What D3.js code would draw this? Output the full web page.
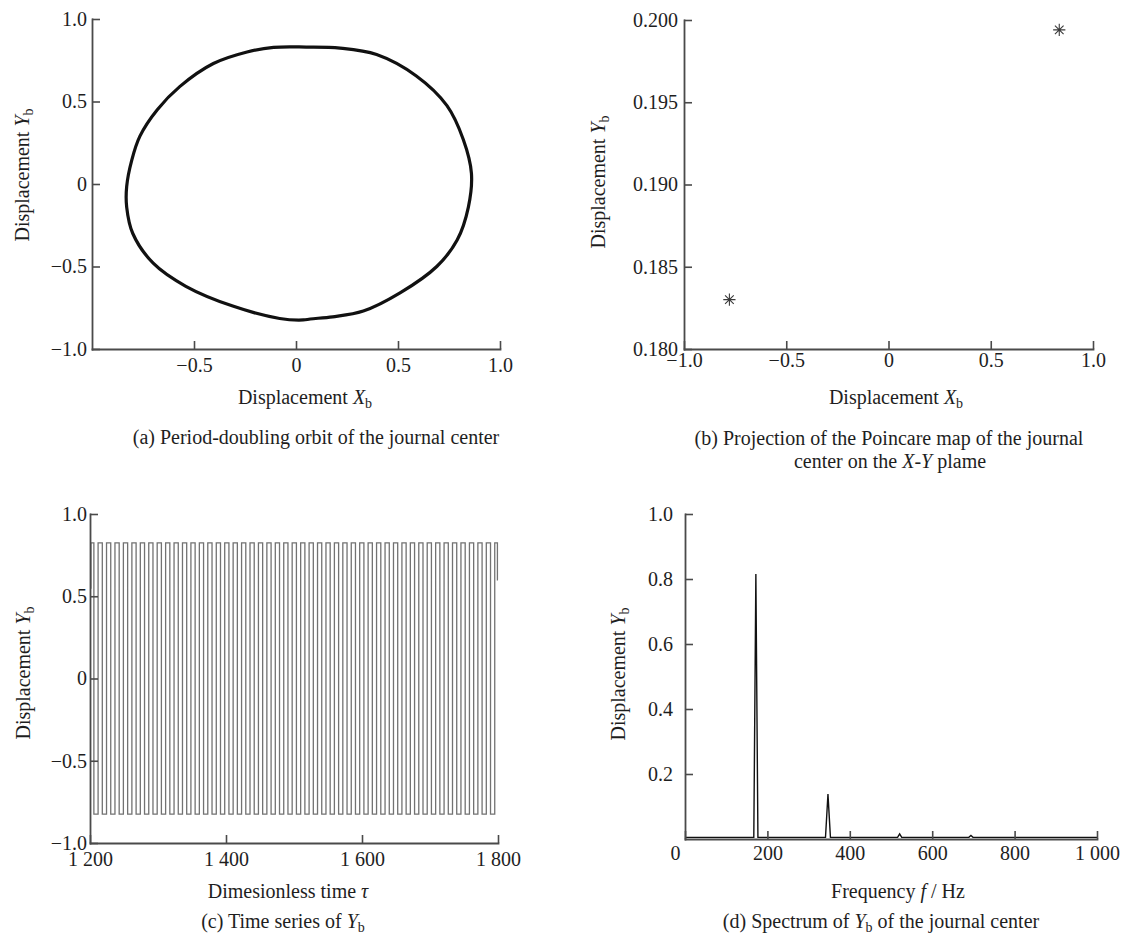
<!DOCTYPE html>
<html>
<head>
<meta charset="utf-8">
<script src="https://cdn.jsdelivr.net/npm/d3@7"></script>
<style>
  html, body { margin: 0; padding: 0; background: #fff; }
  svg { display: block; }
  text { font-family: "Liberation Serif", "Times New Roman", serif; fill: #1e1e1e; }
</style>
</head>
<body>
<svg id="fig" width="1126" height="936"></svg>
<script>
// ---------- (a) journal-centre orbit, traced clockwise from the top ----------
const orbitX = [-0.11, 0.05, 0.216, 0.395, 0.59, 0.74, 0.82, 0.86, 0.845, 0.79, 0.69, 0.51, 0.33, 0.18, 0.07, 0.036, -0.08, -0.31, -0.54, -0.70, -0.80, -0.83, -0.83, -0.805, -0.765, -0.68, -0.57, -0.405, -0.24];
const orbitY = [0.828, 0.83, 0.824, 0.785, 0.655, 0.475, 0.27, 0.065, -0.14, -0.34, -0.50, -0.66, -0.77, -0.805, -0.818, -0.824, -0.815, -0.74, -0.62, -0.48, -0.30, -0.14, -0.015, 0.145, 0.29, 0.45, 0.59, 0.73, 0.80];

// ---------- (b) Poincare section points ----------
const poincareX = [-0.778, 0.835];
const poincareY = [0.1830, 0.1994];

// ---------- (c) Y_b time series: turning points of the oscillation ----------
const seriesTau = [1200.0,
  1202.6, 1208.8, 1215.0, 1221.2, 1227.4, 1233.6, 1239.8, 1246.0, 1252.2, 1258.5,
  1264.7, 1270.9, 1277.1, 1283.3, 1289.5, 1295.7, 1301.9, 1308.1, 1314.3, 1320.5,
  1326.7, 1332.9, 1339.1, 1345.3, 1351.5, 1357.7, 1363.9, 1370.1, 1376.3, 1382.6,
  1388.8, 1395.0, 1401.2, 1407.4, 1413.6, 1419.8, 1426.0, 1432.2, 1438.4, 1444.6,
  1450.8, 1457.0, 1463.2, 1469.4, 1475.6, 1481.8, 1488.0, 1494.2, 1500.4, 1506.7,
  1512.9, 1519.1, 1525.3, 1531.5, 1537.7, 1543.9, 1550.1, 1556.3, 1562.5, 1568.7,
  1574.9, 1581.1, 1587.3, 1593.5, 1599.7, 1605.9, 1612.1, 1618.3, 1624.5, 1630.8,
  1637.0, 1643.2, 1649.4, 1655.6, 1661.8, 1668.0, 1674.2, 1680.4, 1686.6, 1692.8,
  1699.0, 1705.2, 1711.4, 1717.6, 1723.8, 1730.0, 1736.2, 1742.4, 1748.6, 1754.9,
  1761.1, 1767.3, 1773.5, 1779.7, 1785.9, 1792.1, 1798.3,
  1800.0];
const seriesYb = [0.55,
  0.825, -0.825, 0.825, -0.825, 0.825, -0.825, 0.825, -0.825, 0.825, -0.825,
  0.825, -0.825, 0.825, -0.825, 0.825, -0.825, 0.825, -0.825, 0.825, -0.825,
  0.825, -0.825, 0.825, -0.825, 0.825, -0.825, 0.825, -0.825, 0.825, -0.825,
  0.825, -0.825, 0.825, -0.825, 0.825, -0.825, 0.825, -0.825, 0.825, -0.825,
  0.825, -0.825, 0.825, -0.825, 0.825, -0.825, 0.825, -0.825, 0.825, -0.825,
  0.825, -0.825, 0.825, -0.825, 0.825, -0.825, 0.825, -0.825, 0.825, -0.825,
  0.825, -0.825, 0.825, -0.825, 0.825, -0.825, 0.825, -0.825, 0.825, -0.825,
  0.825, -0.825, 0.825, -0.825, 0.825, -0.825, 0.825, -0.825, 0.825, -0.825,
  0.825, -0.825, 0.825, -0.825, 0.825, -0.825, 0.825, -0.825, 0.825, -0.825,
  0.825, -0.825, 0.825, -0.825, 0.825, -0.825, 0.825,
  0.60];

// ---------- (d) amplitude spectrum of Y_b ----------
const specFreq = [0, 167, 172, 177, 341, 347, 353, 516, 521, 526, 689, 694, 699, 1000];
const specAmp  = [0.005, 0.005, 0.815, 0.005, 0.005, 0.138, 0.005, 0.005, 0.016, 0.005, 0.005, 0.011, 0.005, 0.005];

// ---------- tick values ----------
const ticksA_x = [-0.5, 0, 0.5, 1.0];
const ticksA_y = [-1.0, -0.5, 0, 0.5, 1.0];
const ticksB_x = [-1.0, -0.5, 0, 0.5, 1.0];
const ticksB_y = [0.180, 0.185, 0.190, 0.195, 0.200];
const ticksC_x = [1200, 1400, 1600, 1800];
const ticksC_y = [-1.0, -0.5, 0, 0.5, 1.0];
const ticksD_x = [0, 200, 400, 600, 800, 1000];
const ticksD_y = [0.2, 0.4, 0.6, 0.8, 1.0];

const svg = d3.select("#fig");
svg.append("rect").attr("width", 1126).attr("height", 936).attr("fill", "#fff");

const AXIS = "#4a4a4a";
const FS = 20;

const f1 = v => v === 0 ? "0" : d3.format(".1f")(v);
const f3 = d3.format(".3f");
const fThou = v => d3.format(",")(v).replace(",", " ");

function drawAxes(g, x, y, c) {
  const xa = d3.axisBottom(x).tickValues(c.xTicks).tickFormat(c.xFmt)
    .tickSizeInner(-8).tickSizeOuter(0).tickPadding(c.xPad);
  const ya = d3.axisLeft(y).tickValues(c.yTicks).tickFormat(c.yFmt)
    .tickSizeInner(-8).tickSizeOuter(0).tickPadding(c.yPad);
  const gx = g.append("g").attr("transform", `translate(0,${y.range()[0]})`).call(xa);
  const gy = g.append("g").attr("transform", `translate(${x.range()[0]},0)`).call(ya);
  [gx, gy].forEach(s => {
    s.attr("font-family", null).attr("font-size", FS);
    s.select(".domain").attr("stroke", AXIS).attr("stroke-width", 1.8).attr("stroke-linecap", "square");
    s.selectAll(".tick line").attr("stroke", AXIS).attr("stroke-width", 1.6);
    s.selectAll(".tick text").attr("fill", "#1e1e1e");
  });
  return { gx, gy };
}

// "Displacement X_b" style label
function dispLabel(t, letter) {
  t.append("tspan").text("Displacement ");
  t.append("tspan").attr("font-style", "italic").text(letter);
  t.append("tspan").attr("font-size", 14).attr("dy", 4).text("b");
}

function xLabel(cx, cy, build) {
  const t = svg.append("text").attr("x", cx).attr("y", cy)
    .attr("text-anchor", "middle").attr("dy", "0.35em").attr("font-size", FS);
  build(t);
  return t;
}

function yLabel(cx, cy, letter) {
  const t = svg.append("text").attr("transform", `translate(${cx},${cy}) rotate(-90)`)
    .attr("text-anchor", "middle").attr("dy", "0.35em").attr("font-size", FS);
  dispLabel(t, letter);
}

// ===================== (a) orbit =====================
{
  const x = d3.scaleLinear().domain([-1, 1]).range([92, 500]);
  const y = d3.scaleLinear().domain([-1, 1]).range([349, 19]);
  const g = svg.append("g");
  const pts = orbitX.map((v, i) => [v, orbitY[i]]);
  g.append("path")
    .attr("d", d3.line().x(d => x(d[0])).y(d => y(d[1])).curve(d3.curveCatmullRomClosed.alpha(0.5))(pts))
    .attr("fill", "none").attr("stroke", "#111").attr("stroke-width", 3.2);
  drawAxes(g, x, y, { xTicks: ticksA_x, yTicks: ticksA_y, xFmt: f1, yFmt: f1, xPad: 9, yPad: 5 });
  xLabel(305, 397, t => dispLabel(t, "X"));
  yLabel(22, 175, "Y");
  svg.append("text").attr("x", 316).attr("y", 437).attr("dy", "0.35em")
    .attr("text-anchor", "middle").attr("font-size", FS)
    .text("(a) Period-doubling orbit of the journal center");
}

// ===================== (b) Poincare map =====================
{
  const x = d3.scaleLinear().domain([-1, 1]).range([684, 1093]);
  const y = d3.scaleLinear().domain([0.18, 0.2]).range([349, 20]);
  const g = svg.append("g");
  drawAxes(g, x, y, { xTicks: ticksB_x, yTicks: ticksB_y, xFmt: f1, yFmt: f3, xPad: 4, yPad: 6 });
  const star = {
    draw(ctx, size) {
      const r = Math.sqrt(size) / 2, d = r * Math.SQRT1_2;
      ctx.moveTo(0, -r); ctx.lineTo(0, r);
      ctx.moveTo(-r, 0); ctx.lineTo(r, 0);
      ctx.moveTo(-d, -d); ctx.lineTo(d, d);
      ctx.moveTo(-d, d); ctx.lineTo(d, -d);
    }
  };
  g.selectAll("path.pt").data(poincareX.map((v, i) => [v, poincareY[i]])).join("path")
    .attr("class", "pt")
    .attr("transform", d => `translate(${x(d[0])},${y(d[1])})`)
    .attr("d", d3.symbol().type(star).size(150)())
    .attr("fill", "none").attr("stroke", "#3a3a3a").attr("stroke-width", 1.1);
  xLabel(896, 397, t => dispLabel(t, "X"));
  yLabel(598, 182, "Y");
  svg.append("text").attr("x", 889).attr("y", 438).attr("dy", "0.35em")
    .attr("text-anchor", "middle").attr("font-size", FS)
    .text("(b) Projection of the Poincare map of the journal");
  const l2 = svg.append("text").attr("x", 890).attr("y", 461).attr("dy", "0.35em")
    .attr("text-anchor", "middle").attr("font-size", FS);
  l2.append("tspan").text("center on the ");
  l2.append("tspan").attr("font-style", "italic").text("X-Y");
  l2.append("tspan").text(" plame");
}

// ===================== (c) time series =====================
{
  const x = d3.scaleLinear().domain([1200, 1800]).range([90, 498]);
  const y = d3.scaleLinear().domain([-1, 1]).range([843, 514]);
  const g = svg.append("g");
  const pts = seriesTau.map((v, i) => [v, seriesYb[i]]);
  g.append("path")
    .attr("d", d3.line().x(d => x(d[0])).y(d => y(d[1])).curve(d3.curveStep)(pts))
    .attr("fill", "none").attr("stroke", "#727272").attr("stroke-width", 1.3);
  drawAxes(g, x, y, { xTicks: ticksC_x, yTicks: ticksC_y, xFmt: fThou, yFmt: f1, xPad: 9, yPad: 3 });
  xLabel(288, 891, t => {
    t.append("tspan").text("Dimesionless time ");
    t.append("tspan").attr("font-style", "italic").text("\u03c4");
  });
  yLabel(23, 673, "Y");
  const cap = svg.append("text").attr("x", 283).attr("y", 921).attr("dy", "0.35em")
    .attr("text-anchor", "middle").attr("font-size", FS);
  cap.append("tspan").text("(c) Time series of ");
  cap.append("tspan").attr("font-style", "italic").text("Y");
  cap.append("tspan").attr("font-size", 14).attr("dy", 4).text("b");
}

// ===================== (d) spectrum =====================
{
  const x = d3.scaleLinear().domain([0, 1000]).range([685, 1097]);
  const y = d3.scaleLinear().domain([0, 1]).range([839, 514]);
  const g = svg.append("g");
  const pts = specFreq.map((v, i) => [v, specAmp[i]]);
  g.append("path")
    .attr("d", d3.line().x(d => x(d[0])).y(d => y(d[1]))(pts))
    .attr("fill", "none").attr("stroke", "#111").attr("stroke-width", 1.4);
  const ax = drawAxes(g, x, y, { xTicks: ticksD_x, yTicks: ticksD_y, xFmt: fThou, yFmt: f1, xPad: 7, yPad: 12 });
  ax.gx.selectAll(".tick text").filter(d => d === 0).attr("dx", -10);
  xLabel(898, 891, t => {
    t.append("tspan").text("Frequency ");
    t.append("tspan").attr("font-style", "italic").text("f");
    t.append("tspan").text(" / Hz");
  });
  yLabel(618, 674, "Y");
  const cap = svg.append("text").attr("x", 881).attr("y", 921).attr("dy", "0.35em")
    .attr("text-anchor", "middle").attr("font-size", FS);
  cap.append("tspan").text("(d) Spectrum of ");
  cap.append("tspan").attr("font-style", "italic").text("Y");
  cap.append("tspan").attr("font-size", 14).attr("dy", 4).text("b");
  cap.append("tspan").attr("dy", -4).text(" of the journal center");
}
</script>
</body>
</html>
